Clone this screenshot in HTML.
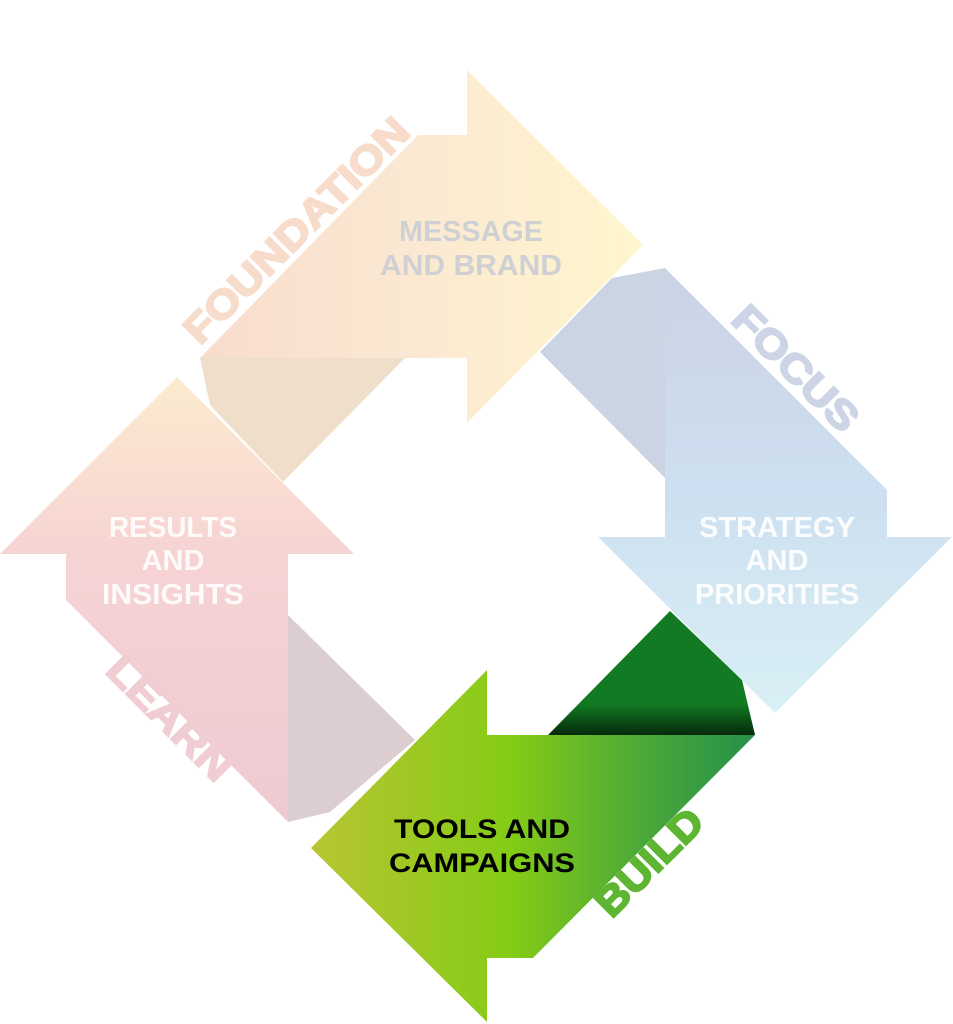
<!DOCTYPE html>
<html><head><meta charset="utf-8"><style>
html,body{margin:0;padding:0;background:#fff;width:953px;height:1024px;overflow:hidden}
svg{display:block}
text{font-family:"Liberation Sans",sans-serif;font-weight:bold}
</style></head><body>
<svg width="953" height="1024" viewBox="0 0 953 1024" xmlns="http://www.w3.org/2000/svg">
<defs>
<linearGradient id="gTop" x1="0" y1="0" x2="1" y2="0"><stop offset="0" stop-color="#f8dccd"/><stop offset="0.5" stop-color="#fbe9d2"/><stop offset="1" stop-color="#fff6cc"/></linearGradient>
<linearGradient id="gRight" x1="0" y1="0" x2="0" y2="1"><stop offset="0" stop-color="#cbd3e5"/><stop offset="0.5" stop-color="#cddff0"/><stop offset="1" stop-color="#d9f0f5"/></linearGradient>
<linearGradient id="gLeft" x1="0" y1="0" x2="0" y2="1"><stop offset="0" stop-color="#fcebcf"/><stop offset="0.4" stop-color="#f6d3d3"/><stop offset="1" stop-color="#edcad1"/></linearGradient>
<linearGradient id="gGreen" x1="0" y1="0" x2="1" y2="0"><stop offset="0" stop-color="#b8c532"/><stop offset="0.45" stop-color="#84cc16"/><stop offset="0.75" stop-color="#4aa838"/><stop offset="1" stop-color="#26904a"/></linearGradient>
<linearGradient id="gDark" x1="0" y1="0" x2="0" y2="1"><stop offset="0" stop-color="#127a22"/><stop offset="0.75" stop-color="#127a22"/><stop offset="1" stop-color="#062a0c"/></linearGradient>
</defs>
<polygon points="200,358 405,358 283,482 210,405" fill="#efdfca"/>
<polygon points="540,352 612,278 665,268 665,478" fill="#cad4e2"/>
<polygon points="288,615 415,740 330,812 288,822" fill="#dccdd0"/>
<polygon points="548,735 670,611 742,680 755,735" fill="url(#gDark)"/>
<polygon points="200,358 418,135 467,135 467,70 643,245 467,423 467,358" fill="url(#gTop)"/>
<polygon points="665,268 887,490 887,537 952,537 775,713 598,537 665,537" fill="url(#gRight)"/>
<polygon points="66,600 66,554 0,554 177,377 354,554 288,554 288,822" fill="url(#gLeft)"/>
<polygon points="755,735 533,958 487,958 487,1022 311,848 487,670 487,735" fill="url(#gGreen)"/>
<g fill="#cfd0d4" font-size="29" text-anchor="middle">
<text x="471" y="241" textLength="144" lengthAdjust="spacingAndGlyphs">MESSAGE</text>
<text x="471" y="275" textLength="182" lengthAdjust="spacingAndGlyphs">AND BRAND</text>
</g>
<g fill="#fff" font-size="29" text-anchor="middle" opacity="0.9">
<text x="777" y="537" textLength="156" lengthAdjust="spacingAndGlyphs">STRATEGY</text>
<text x="777" y="570">AND</text>
<text x="777" y="604" textLength="164" lengthAdjust="spacingAndGlyphs">PRIORITIES</text>
<text x="173" y="537" textLength="128" lengthAdjust="spacingAndGlyphs">RESULTS</text>
<text x="173" y="570">AND</text>
<text x="173" y="604" textLength="142" lengthAdjust="spacingAndGlyphs">INSIGHTS</text>
</g>
<g fill="#000" font-size="27" text-anchor="middle">
<text x="482" y="838" textLength="176" lengthAdjust="spacingAndGlyphs">TOOLS AND</text>
<text x="482" y="872" textLength="186" lengthAdjust="spacingAndGlyphs">CAMPAIGNS</text>
</g>
<g font-size="40" text-anchor="middle" stroke-width="2" paint-order="stroke">
<text transform="translate(306,240) rotate(-45)" fill="#f7dccb" stroke="#f7dccb" textLength="300" lengthAdjust="spacingAndGlyphs">FOUNDATION</text>
<text transform="translate(786,378) rotate(45)" fill="#ccd4e6" stroke="#ccd4e6" textLength="160" lengthAdjust="spacingAndGlyphs">FOCUS</text>
<text transform="translate(160,728) rotate(45)" fill="#f0cdd3" stroke="#f0cdd3" textLength="158" lengthAdjust="spacingAndGlyphs">LEARN</text>
<text transform="translate(659,872) rotate(-45)" fill="#5db531" stroke="#5db531" textLength="134" lengthAdjust="spacingAndGlyphs">BUILD</text>
</g>
</svg>
</body></html>
